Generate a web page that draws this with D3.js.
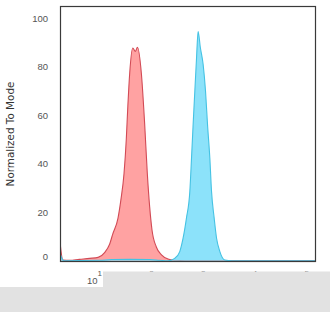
<!DOCTYPE html>
<html>
<head>
<meta charset="utf-8">
<script src="https://cdn.jsdelivr.net/npm/d3@7"></script>
<style>
  html, body { margin: 0; padding: 0; background: #fff; }
  svg { display: block; font-family: "DejaVu Sans", sans-serif; }
</style>
</head>
<body>
<svg id="chart" width="330" height="312"></svg>
<script>
// Isotype control (red) histogram: fluorescence intensity vs % of mode
const redX = [2.2, 2.3, 2.5, 3.4, 5.2, 8.2, 12, 16, 20, 23, 29, 33, 38, 42, 45, 49, 56, 63, 69, 82, 95, 107, 119, 132, 160, 201, 269, 363, 570, 190000];
const redY = [7.9, 4, 0.3, 0.2, 0.6, 1.0, 1.4, 3.4, 6.8, 11, 17.5, 25, 36, 50, 63.6, 77.5, 87.7, 86.3, 88, 77.5, 56.8, 36.2, 22.2, 12.7, 5.7, 2.4, 0.7, 0.2, 0, 0];

// Stained sample (blue) histogram
const blueX = [2.2, 2.4, 2.6, 12.8, 22, 49, 119, 186, 266, 363, 454, 526, 612, 710, 766, 822, 887, 957, 1028, 1133, 1284, 1430, 1563, 1731, 1867, 2097, 2335, 2704, 3380, 4624, 190000];
const blueY = [3, 1, 0, 0.2, 0.5, 0.6, 0.5, 0.2, 0, 1, 3.8, 9.3, 17.7, 28.5, 42.3, 56, 69.8, 83.5, 94.5, 88, 81, 69.8, 56, 42.3, 28.5, 17.7, 9.3, 3.8, 0.3, 0, 0];

const yTicks = [0, 20, 40, 60, 80, 100];
const xTicks = [10, 100, 1000, 10000, 100000];
const yLabel = "Normalized To Mode";

const svg = d3.select("#chart");
const plot = { left: 60, right: 316, top: 6, bottom: 262 };

const x = d3.scaleLog().domain([2.2, 195000]).range([plot.left, plot.right]);
const y = d3.scaleLinear().domain([-0.5, 105]).range([plot.bottom, plot.top]);

// --- clip for the histograms ---
svg.append("clipPath").attr("id", "plot-clip")
  .append("rect")
  .attr("x", plot.left).attr("y", plot.top)
  .attr("width", plot.right - plot.left).attr("height", plot.bottom - plot.top);

const area = d3.area()
  .x(d => x(d[0]))
  .y0(y(0))
  .y1(d => y(d[1]))
  .curve(d3.curveMonotoneX);

const line = d3.line()
  .x(d => x(d[0]))
  .y(d => y(d[1]))
  .curve(d3.curveMonotoneX);

const series = [
  { pts: d3.zip(redX, redY), fill: "#ff9d9d", stroke: "#d24a55", op: 0.95 },
  { pts: d3.zip(blueX, blueY), fill: "#7fdffa", stroke: "#45c2e3", op: 0.9 }
];

const g = svg.append("g").attr("clip-path", "url(#plot-clip)");
series.forEach(s => {
  g.append("path").datum(s.pts)
    .attr("d", area)
    .attr("fill", s.fill)
    .attr("fill-opacity", s.op);
  g.append("path").datum(s.pts)
    .attr("d", line)
    .attr("fill", "none")
    .attr("stroke", s.stroke)
    .attr("stroke-width", 1.1);
});

// --- frame ---
svg.append("rect")
  .attr("x", plot.left + 0.5).attr("y", plot.top + 0.5)
  .attr("width", plot.right - plot.left - 1).attr("height", plot.bottom - plot.top - 1)
  .attr("fill", "none")
  .attr("stroke", "#3a3a3a")
  .attr("stroke-width", 1.2);

// --- y axis ---
const yAxis = svg.append("g")
  .attr("transform", `translate(${plot.left},0)`)
  .call(d3.axisLeft(y).tickValues(yTicks).tickSize(0).tickPadding(12));
yAxis.select(".domain").remove();
yAxis.selectAll(".tick text")
  .attr("fill", "#555")
  .style("font-size", "9.5px")
  .attr("dy", d => d === 0 ? "-0.1em" : "0.32em");

svg.append("text")
  .attr("transform", `translate(14,${(plot.top + plot.bottom) / 2}) rotate(-90)`)
  .attr("text-anchor", "middle")
  .attr("fill", "#333")
  .style("font-size", "10.4px")
  .text(yLabel);

// --- x axis (decade labels with superscript) ---
const xAxis = svg.append("g")
  .attr("transform", `translate(0,${plot.bottom})`)
  .call(d3.axisBottom(x).tickValues(xTicks).tickSize(0).tickFormat(""));
xAxis.select(".domain").remove();
xAxis.selectAll(".tick text").each(function (d) {
  const t = d3.select(this)
    .attr("y", 21.5).attr("dy", 0)
    .attr("fill", "#555")
    .style("font-size", "9.5px");
  t.append("tspan").text("10");
  t.append("tspan").attr("dy", -7.5).style("font-size", "8px").text(Math.round(Math.log10(d)));
});

// --- grey overlay at the bottom ---
svg.append("rect").attr("x", 103).attr("y", 271.5).attr("width", 227).attr("height", 41).attr("fill", "#e2e2e2");
svg.append("rect").attr("x", 0).attr("y", 287).attr("width", 330).attr("height", 25).attr("fill", "#e2e2e2");
</script>
</body>
</html>
